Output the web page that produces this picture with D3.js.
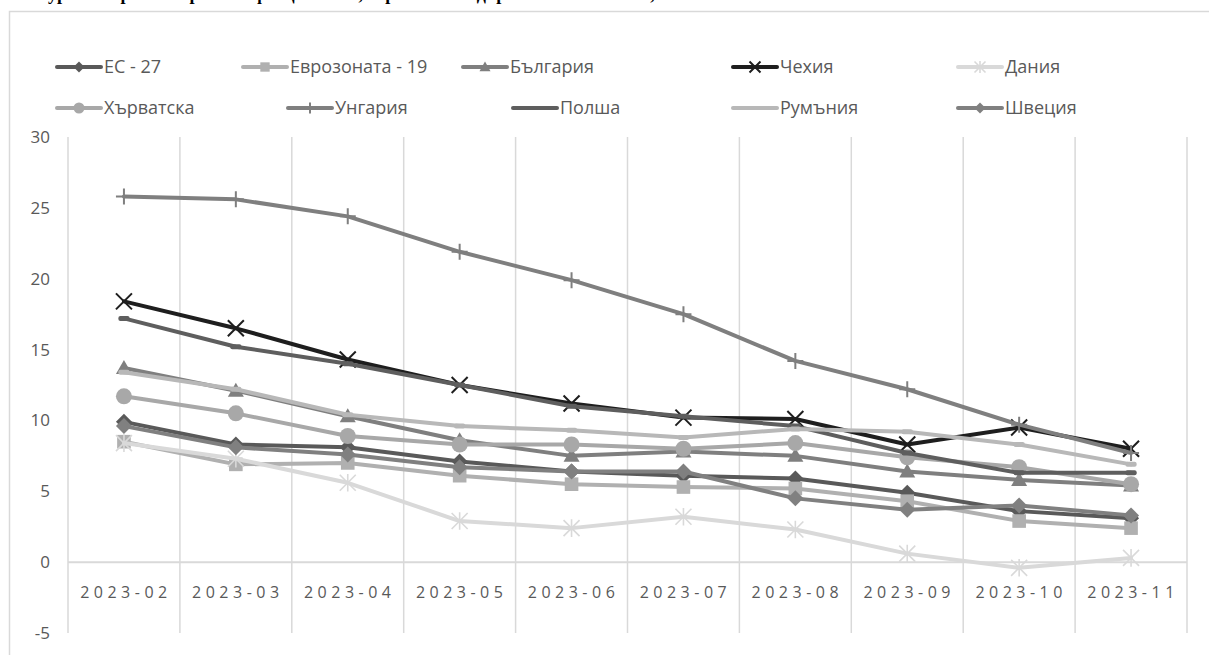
<!DOCTYPE html>
<html>
<head>
<meta charset="utf-8">
<script src="https://cdn.jsdelivr.net/npm/d3@7"></script>
<style>
  body { margin: 0; background: #fff; }
  svg { display: block; }
</style>
</head>
<body>
<svg width="1209" height="655"></svg>
<script>
// months on the x axis
var months = ["2023-02", "2023-03", "2023-04", "2023-05", "2023-06", "2023-07", "2023-08", "2023-09", "2023-10", "2023-11"];
var yTicks = [-5, 0, 5, 10, 15, 20, 25, 30];

// annual inflation, %
var eu27     = [9.9, 8.3, 8.1, 7.1, 6.4, 6.1, 5.9, 4.9, 3.6, 3.1];
var euro19   = [8.5, 6.9, 7.0, 6.1, 5.5, 5.3, 5.2, 4.3, 2.9, 2.4];
var bulgaria = [13.7, 12.1, 10.3, 8.6, 7.5, 7.8, 7.5, 6.4, 5.8, 5.4];
var czechia  = [18.4, 16.5, 14.3, 12.5, 11.2, 10.2, 10.1, 8.3, 9.5, 8.0];
var denmark  = [8.4, 7.3, 5.6, 2.9, 2.4, 3.2, 2.3, 0.6, -0.4, 0.3];
var croatia  = [11.7, 10.5, 8.9, 8.3, 8.3, 8.0, 8.4, 7.4, 6.7, 5.5];
var hungary  = [25.8, 25.6, 24.4, 21.9, 19.9, 17.5, 14.2, 12.2, 9.7, 7.7];
var poland   = [17.2, 15.2, 14.0, 12.5, 11.0, 10.3, 9.6, 7.7, 6.3, 6.3];
var romania  = [13.4, 12.2, 10.4, 9.6, 9.3, 8.8, 9.4, 9.2, 8.3, 6.9];
var sweden   = [9.6, 8.1, 7.6, 6.7, 6.4, 6.4, 4.5, 3.7, 4.0, 3.3];

var names = ["ЕС - 27", "Еврозоната - 19", "България", "Чехия", "Дания",
             "Хърватска", "Унгария", "Полша", "Румъния", "Швеция"];
var values = [eu27, euro19, bulgaria, czechia, denmark, croatia, hungary, poland, romania, sweden];
var colors = ["#595959", "#b0b0b0", "#7f7f7f", "#1e1e1e", "#d9d9d9",
              "#a8a8a8", "#7f7f7f", "#5e5e5e", "#b8b8b8", "#808080"];
var markers = ["diamond", "square", "triangle", "x", "star",
               "circle", "plus", "dash", "dash", "diamond"];

var series = names.map(function(n, i) {
  return {name: n, values: values[i], color: colors[i], marker: markers[i]};
});

var svg = d3.select("svg");
var font = "'Open Sans', 'Noto Sans', sans-serif";

// title, only its lower edge shows at the top of the page
svg.append("text")
    .attr("x", 14)
    .attr("y", 0)
    .style("font-family", "'Liberation Serif', serif")
    .style("font-weight", "bold")
    .style("font-size", "18px")
    .text("Фигура 2. Хармонизирана инфлация в ЕС, еврозоната и държавите извън нея, %");

// chart frame
svg.append("rect")
    .attr("x", 9.5)
    .attr("y", 11.5)
    .attr("width", 1250)
    .attr("height", 700)
    .attr("fill", "none")
    .attr("stroke", "#d9d9d9")
    .attr("stroke-width", 1.5);

var x = d3.scaleBand()
    .domain(months)
    .range([68, 1187]);

var y = d3.scaleLinear()
    .domain([-5, 30])
    .range([633, 137]);

var cx = function(i) { return x(months[i]) + x.bandwidth() / 2; };

// vertical gridlines at category edges
var edges = months.map(function(m) { return x(m); }).concat([x.range()[1]]);
svg.append("g").selectAll("line")
    .data(edges)
  .enter().append("line")
    .attr("x1", function(d) { return d; })
    .attr("x2", function(d) { return d; })
    .attr("y1", y(30))
    .attr("y2", y(-5))
    .attr("stroke", "#d9d9d9")
    .attr("stroke-width", 1.5);

// zero line
svg.append("line")
    .attr("x1", x.range()[0])
    .attr("x2", x.range()[1])
    .attr("y1", y(0))
    .attr("y2", y(0))
    .attr("stroke", "#d9d9d9")
    .attr("stroke-width", 2);

// y labels
svg.append("g").selectAll("text")
    .data(yTicks)
  .enter().append("text")
    .attr("x", 50)
    .attr("y", function(d) { return y(d); })
    .attr("dy", "0.35em")
    .attr("text-anchor", "end")
    .style("font-family", font)
    .style("font-size", "17px")
    .attr("fill", "#595959")
    .text(function(d) { return d; });

// x labels
svg.append("g").selectAll("text")
    .data(months)
  .enter().append("text")
    .attr("x", function(d) { return x(d) + x.bandwidth() / 2 + 2; })
    .attr("y", 592)
    .attr("dy", "0.35em")
    .attr("text-anchor", "middle")
    .style("font-family", font)
    .style("font-size", "16px")
    .style("letter-spacing", "4.5px")
    .attr("fill", "#595959")
    .text(function(d) { return d; });

var line = d3.line()
    .x(function(d, i) { return cx(i); })
    .y(function(d) { return y(d); });

function drawMarker(g, type, color, s) {
  if (type === "diamond") {
    g.append("path").attr("d", "M0," + (-s) + "L" + s + ",0L0," + s + "L" + (-s) + ",0Z").attr("fill", color);
  } else if (type === "square") {
    g.append("rect").attr("x", -s * 0.85).attr("y", -s * 0.85).attr("width", s * 1.7).attr("height", s * 1.7).attr("fill", color);
  } else if (type === "triangle") {
    g.append("path").attr("d", "M0," + (-s) + "L" + s + "," + (s * 0.75) + "L" + (-s) + "," + (s * 0.75) + "Z").attr("fill", color);
  } else if (type === "circle") {
    g.append("circle").attr("r", s).attr("fill", color);
  } else if (type === "x") {
    g.append("path").attr("d", "M" + (-s) + "," + (-s) + "L" + s + "," + s + "M" + s + "," + (-s) + "L" + (-s) + "," + s)
      .attr("stroke", color).attr("stroke-width", 2).attr("fill", "none");
  } else if (type === "star") {
    g.append("path").attr("d", "M" + (-s) + "," + (-s) + "L" + s + "," + s + "M" + s + "," + (-s) + "L" + (-s) + "," + s + "M0," + (-s * 1.1) + "L0," + (s * 1.1))
      .attr("stroke", color).attr("stroke-width", 1.6).attr("fill", "none");
  } else if (type === "plus") {
    g.append("path").attr("d", "M" + (-s) + ",0L" + s + ",0M0," + (-s) + "L0," + s)
      .attr("stroke", color).attr("stroke-width", 2).attr("fill", "none");
  } else if (type === "dash") {
    g.append("rect").attr("x", -s * 0.7).attr("y", -2.5).attr("width", s * 1.4).attr("height", 5).attr("rx", 2).attr("fill", color);
  }
}

series.forEach(function(s) {
  svg.append("path")
      .datum(s.values)
      .attr("fill", "none")
      .attr("stroke", s.color)
      .attr("stroke-width", 4)
      .attr("stroke-linejoin", "round")
      .attr("stroke-linecap", "round")
      .attr("d", line);
  s.values.forEach(function(v, i) {
    var g = svg.append("g").attr("transform", "translate(" + cx(i) + "," + y(v) + ")");
    drawMarker(g, s.marker, s.color, 8);
  });
});

// legend
var legendPos = [
  [57, 67], [243, 67], [463, 67], [733, 67], [958, 67],
  [57, 108], [288, 108], [513, 108], [733, 108], [958, 108]
];
series.forEach(function(s, i) {
  var p = legendPos[i];
  var g = svg.append("g").attr("transform", "translate(" + p[0] + "," + p[1] + ")");
  g.append("line")
      .attr("x1", 0).attr("x2", 44)
      .attr("stroke", s.color)
      .attr("stroke-width", 4)
      .attr("stroke-linecap", "round");
  var m = g.append("g").attr("transform", "translate(22,0)");
  if (s.marker !== "dash") drawMarker(m, s.marker, s.color, 5.5);
  g.append("text")
      .attr("x", 47)
      .attr("dy", "0.35em")
      .style("font-family", font)
      .style("font-size", "18px")
      .attr("fill", "#595959")
      .text(s.name);
});
</script>
</body>
</html>
